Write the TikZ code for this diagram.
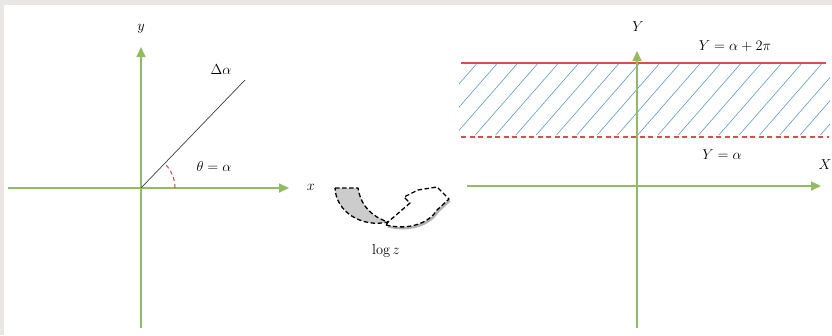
\documentclass[tikz,border=0pt]{standalone}
\usetikzlibrary{arrows.meta}
\definecolor{axgreen}{HTML}{92BD5F}
\definecolor{bgray}{HTML}{E9E6E3}
\definecolor{lred}{HTML}{E04A4A}
\definecolor{dred}{HTML}{C0504D}
\definecolor{hblue}{HTML}{5B9BD5}
\begin{document}
\begin{tikzpicture}[x=1pt,y=-1pt,
  axis/.style={draw=axgreen, line width=1.7pt, -{Triangle[length=10pt,width=9pt]}, fill=axgreen},
  lbl/.style={font=\fontsize{14.5}{17}\selectfont, inner sep=0pt},
  arrline/.style={draw=black, line width=1.3pt, dash pattern=on 4.5pt off 2.5pt, line join=round}]
\fill[bgray] (0,0) rectangle (832,335);
\fill[white] (4,5) rectangle (832,335);
\useasboundingbox (0,0) rectangle (832,335);

% left panel
\coordinate (O1) at (141,188);
\coordinate (y1b) at (141,328);
\coordinate (y1t) at (141,47);
\coordinate (x1l) at (8,188);
\coordinate (x1r) at (289,188);
\coordinate (R1) at (245,80);
\draw[axis] (y1b) -- (y1t);
\draw[axis] (x1l) -- (x1r);
\draw[draw=black!75, line width=0.7pt] (O1) -- (R1);
\draw[dred, line width=1pt, dash pattern=on 4pt off 3pt] ([shift={(0:34)}]O1) arc[start angle=0, end angle=-46, radius=34];
\node[lbl] (ly) at (141,29) {$y$};
\node[lbl] (lx) at (311,187) {$x$};
\node[lbl] (lda) at (221,70) {$\Delta\alpha$};
\node[lbl] (lth) at (214,166) {$\theta=\alpha$};

% middle curved arrow
\fill[gray!60, shift={(1.5,2.5)}] (386,225) .. controls (410,231) and (430,222) .. (437,210) -- (449,199) -- (437,187) -- (418,190) -- (404,197) -- (410,203) -- (388,222) -- cycle;
\filldraw[fill=white, arrline] (386,225) .. controls (410,231) and (430,222) .. (437,210) -- (449,199) -- (437,187) -- (418,190) -- (404,197) -- (410,203) -- (388,222) -- cycle;
\filldraw[fill=gray!40, arrline] (335,188) -- (358,188) .. controls (361,207) and (373,217) .. (388,222) .. controls (362,228) and (336,212) .. (335,188) -- cycle;
\node[lbl] (llog) at (386,251) {$\log z$};

% right panel
\coordinate (O2) at (637,186);
\coordinate (y2b) at (637,328);
\coordinate (y2t) at (637,51);
\coordinate (x2l) at (467,186);
\coordinate (x2r) at (821,186);
\begin{scope}
\clip (459,63) rectangle (830,137);
\foreach \t in {476.4,496.7,...,905} {
  \draw[hblue, line width=0.6pt] (\t-62,135) -- (\t,64);
}
\end{scope}
\draw[lred, line width=1.1pt] (461,63) -- (826,63);
\draw[lred, line width=1.1pt, dash pattern=on 5pt off 3.5pt] (461,137) -- (829,137);
\draw[axis] (y2b) -- (y2t);
\draw[axis] (x2l) -- (x2r);
\node[lbl] (lY) at (638,27) {$Y$};
\node[lbl] (lX) at (825,165) {$X$};
\node[lbl] (ltop) at (735,46) {$Y=\alpha+2\pi$};
\node[lbl] (lbot) at (722,155) {$Y=\alpha$};
\end{tikzpicture}
\end{document}
